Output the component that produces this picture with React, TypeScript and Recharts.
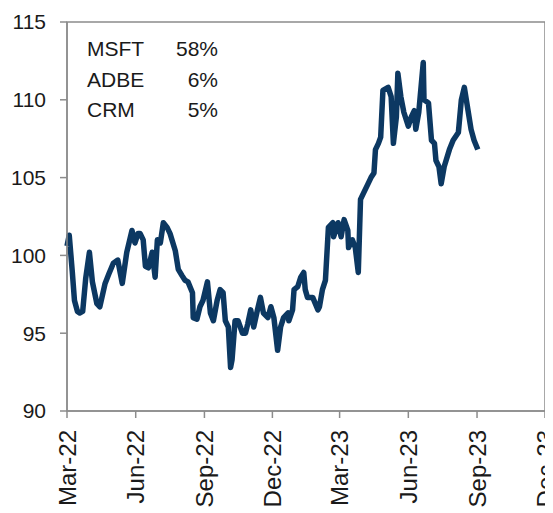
import { LineChart, Line, XAxis, YAxis, ReferenceArea } from 'recharts';

const dates = [
  '2022-03-01', '2022-03-04', '2022-03-08', '2022-03-11', '2022-03-15', '2022-03-18', '2022-03-22', '2022-03-26',
  '2022-03-31', '2022-04-04', '2022-04-10', '2022-04-14', '2022-04-21', '2022-04-26', '2022-05-02', '2022-05-08',
  '2022-05-14', '2022-05-20', '2022-05-27', '2022-05-31', '2022-06-04', '2022-06-07', '2022-06-11', '2022-06-14',
  '2022-06-18', '2022-06-23', '2022-06-27', '2022-06-30', '2022-07-04', '2022-07-08', '2022-07-13', '2022-07-17',
  '2022-07-24', '2022-07-28', '2022-08-02', '2022-08-06', '2022-08-10', '2022-08-16', '2022-08-17', '2022-08-22',
  '2022-08-26', '2022-08-30', '2022-09-05', '2022-09-09', '2022-09-13', '2022-09-18', '2022-09-22', '2022-09-26',
  '2022-09-29', '2022-10-03', '2022-10-06', '2022-10-08', '2022-10-12', '2022-10-16', '2022-10-22', '2022-10-26',
  '2022-10-29', '2022-11-02', '2022-11-06', '2022-11-11', '2022-11-15', '2022-11-19', '2022-11-25', '2022-11-29',
  '2022-12-03', '2022-12-08', '2022-12-12', '2022-12-16', '2022-12-22', '2022-12-23', '2022-12-28', '2022-12-30',
  '2023-01-04', '2023-01-08', '2023-01-12', '2023-01-14', '2023-01-17', '2023-01-24', '2023-01-31', '2023-02-02',
  '2023-02-06', '2023-02-10', '2023-02-14', '2023-02-20', '2023-02-21', '2023-02-27', '2023-03-03', '2023-03-07',
  '2023-03-12', '2023-03-13', '2023-03-18', '2023-03-22', '2023-03-26', '2023-03-29', '2023-04-02', '2023-04-08',
  '2023-04-12', '2023-04-16', '2023-04-18', '2023-04-22', '2023-04-25', '2023-04-28', '2023-05-05', '2023-05-09',
  '2023-05-12', '2023-05-16', '2023-05-18', '2023-05-22', '2023-05-26', '2023-06-01', '2023-06-05', '2023-06-09',
  '2023-06-11', '2023-06-15', '2023-06-21', '2023-06-22', '2023-06-28', '2023-07-02', '2023-07-06', '2023-07-08',
  '2023-07-12', '2023-07-15', '2023-07-19', '2023-07-26', '2023-07-31', '2023-08-07', '2023-08-11', '2023-08-15',
  '2023-08-20', '2023-08-24', '2023-08-28', '2023-09-02',
];

const values = [
  100.6, 101.3, 99.0, 97.1, 96.4, 96.3, 96.4, 98.5,
  100.2, 98.3, 96.9, 96.7, 98.2, 98.8, 99.5, 99.7,
  98.2, 100.2, 101.6, 100.8, 101.4, 101.4, 101.0, 99.3,
  99.2, 100.2, 98.6, 101.0, 100.8, 102.1, 101.8, 101.4,
  100.3, 99.1, 98.7, 98.4, 98.3, 97.6, 96.0, 95.9,
  96.7, 97.1, 98.3, 96.3, 95.8, 97.1, 97.8, 97.6,
  95.8, 95.4, 92.8, 93.3, 95.8, 95.8, 95.0, 95.0,
  95.6, 96.5, 95.4, 96.5, 97.3, 96.3, 96.0, 96.7,
  96.0, 93.9, 95.4, 96.0, 96.3, 95.8, 96.5, 97.8,
  98.0, 98.6, 98.9, 97.8, 97.3, 97.3, 96.5, 96.7,
  97.8, 98.4, 101.8, 102.1, 101.2, 102.1, 101.2, 102.3,
  101.6, 100.5, 101.0, 100.5, 98.9, 103.6, 104.0, 104.6,
  105.0, 105.3, 106.8, 107.2, 107.6, 110.6, 110.8, 110.2,
  107.2, 108.9, 111.7, 110.2, 109.2, 108.3, 108.9, 109.3,
  108.1, 109.2, 112.4, 110.0, 109.8, 107.4, 107.2, 106.1,
  105.7, 104.6, 105.7, 106.8, 107.4, 107.9, 110.0, 110.8,
  109.3, 108.1, 107.4, 106.8,
];

const tickDates = ['2022-03-01', '2022-06-01', '2022-09-01', '2022-12-01', '2023-03-01', '2023-06-01', '2023-09-01', '2023-12-01'];
const tickLabels = ['Mar-22', 'Jun-22', 'Sep-22', 'Dec-22', 'Mar-23', 'Jun-23', 'Sep-23', 'Dec-23'];
const yTicks = [90, 95, 100, 105, 110, 115];

const weightNames = ['MSFT', 'ADBE', 'CRM'];
const weightValues = ['58%', '6%', '5%'];

const ts = (d: string) => Date.parse(d + 'T00:00:00Z');

const data = dates.map((d, i) => ({ t: ts(d), v: values[i] }));
const xTicks = tickDates.map(ts);
const xMin = xTicks[0];
const xMax = xTicks[xTicks.length - 1];

const FONT = '"Liberation Sans", Arial, sans-serif';
const AXIS = '#8c8c8c';
const NAVY = '#0c3862';

function DateTick(props: any) {
  const { x, y, payload } = props;
  const idx = xTicks.indexOf(payload.value);
  return (
    <text
      x={x}
      y={y}
      transform={`rotate(-90, ${x}, ${y})`}
      textAnchor="end"
      dominantBaseline="central"
      fontSize={24}
      fontFamily={FONT}
      fill="#1a1a1a"
    >
      {tickLabels[idx]}
    </text>
  );
}

export default function App() {
  return (
    <div style={{ position: 'relative', width: 545, height: 505, fontFamily: FONT }}>
      <LineChart width={545} height={505} data={data} margin={{ top: 14, right: 8, left: 0, bottom: 0 }}>
        <ReferenceArea x1={xMin} x2={xMax} y1={90} y2={115} fill="none" stroke={AXIS} strokeWidth={1.5} />
        <XAxis
          dataKey="t"
          type="number"
          domain={[xMin, xMax]}
          ticks={xTicks}
          interval={0}
          height={102}
          tickSize={7}
          tickMargin={12}
          stroke={AXIS}
          strokeWidth={1.5}
          tick={<DateTick />}
        />
        <YAxis
          type="number"
          domain={[90, 115]}
          ticks={yTicks}
          interval={0}
          width={59}
          tickSize={7}
          tickMargin={14}
          stroke={AXIS}
          strokeWidth={1.5}
          tick={{ fontSize: 21, fill: '#1a1a1a', fontFamily: FONT }}
        />
        <Line
          type="linear"
          dataKey="v"
          stroke={NAVY}
          strokeWidth={5.5}
          strokeLinejoin="round"
          dot={false}
          isAnimationActive={false}
        />
      </LineChart>
      <div style={{ position: 'absolute', left: 79, top: 26, width: 131, fontSize: 21, lineHeight: '30.5px', color: '#1a1a1a' }}>
        {weightNames.map((n, i) => (
          <div key={n} style={{ display: 'flex', justifyContent: 'space-between' }}>
            <span>{n}</span>
            <span>{weightValues[i]}</span>
          </div>
        ))}
      </div>
    </div>
  );
}
